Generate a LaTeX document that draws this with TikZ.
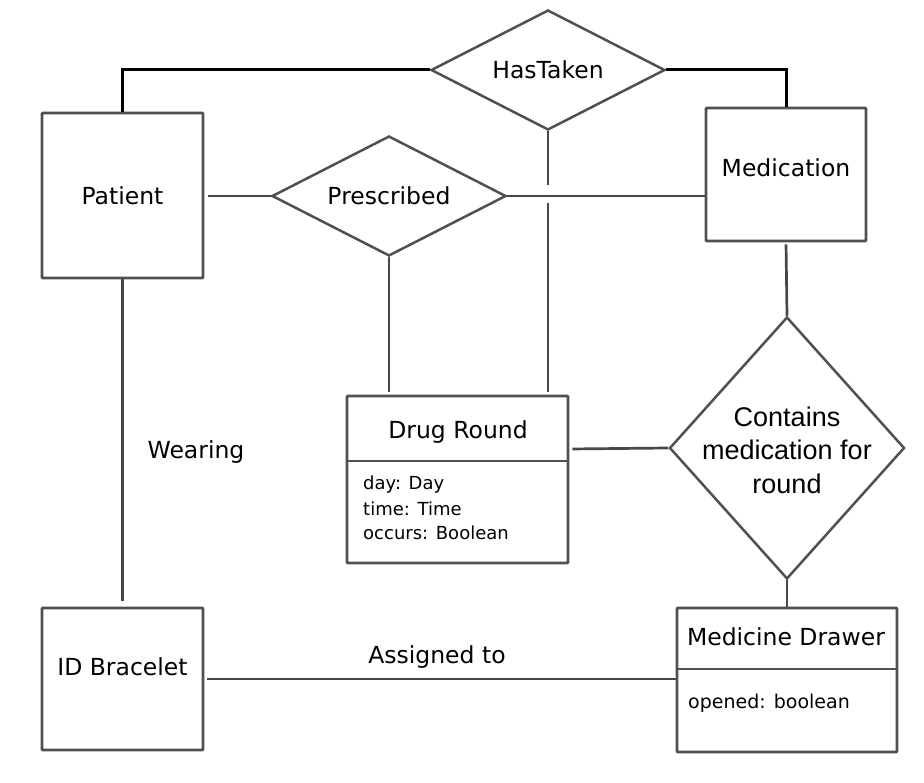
\documentclass[tikz,border=0pt]{standalone}
\usepackage{fontspec}
\setmainfont{DejaVu Sans}
\newfontfamily\relfont{Liberation Sans}
\usetikzlibrary{shapes.geometric}
\begin{document}
\begin{tikzpicture}[x=1pt,y=-1pt,
  entity/.style={draw=boxgrey,line width=2.9pt,rounded corners=1pt,fill=white,inner sep=0pt},
  relation/.style={draw=boxgrey,line width=2.5pt,shape=diamond,inner sep=0pt,fill=white},
  link/.style={draw=linegrey,line width=2.7pt},
  strong/.style={draw=black,line width=3pt},
  title/.style={font=\fontsize{23.5}{28}\selectfont,inner sep=0pt},
  attr/.style={font=\fontsize{18}{24}\selectfont,inner sep=0pt,anchor=west},
  reltext/.style={font=\relfont\fontsize{27}{33.5}\selectfont,align=center,inner sep=0pt}]
\definecolor{boxgrey}{HTML}{505050}
\definecolor{linegrey}{HTML}{484848}
\useasboundingbox[fill=white] (0,0) rectangle (924,783);

% entities
\node[entity,minimum width=161pt,minimum height=165pt] (patient) at (122.5,195.5) {};
\node[entity,minimum width=160pt,minimum height=133pt] (medication) at (786,174.5) {};
\node[entity,minimum width=161pt,minimum height=142pt] (bracelet) at (122.5,679) {};
\node[entity,minimum width=221pt,minimum height=167pt] (round) at (457.5,479.5) {};
\node[entity,minimum width=220pt,minimum height=144pt] (drawer) at (787,680) {};

% compartment dividers
\draw[draw=boxgrey,line width=2.9pt] (round.west |- 0,461) coordinate (rdl) -- (round.east |- 0,461) coordinate (rdr);
\draw[draw=boxgrey,line width=2.9pt] (drawer.west |- 0,669) coordinate (ddl) -- (drawer.east |- 0,669) coordinate (ddr);

% relationships
\node[relation,minimum width=234pt,minimum height=120pt] (hastaken) at (548,70) {};
\node[relation,minimum width=234pt,minimum height=120pt] (prescribed) at (389,196) {};
\node[relation,minimum width=235pt,minimum height=262pt] (contains) at (787,448) {};

% texts
\node[title] (tpatient) at (122.5,196) {Patient};
\node[title] (tmedication) at (786,168) {Medication};
\node[title] (tbracelet) at (122.5,667) {ID Bracelet};
\node[title] (tround) at (458,432) {Drug Round};
\node[title] (tdrawer) at (786,637) {Medicine Drawer};
\node[title] (thastaken) at (548,70) {HasTaken};
\node[title] (tprescribed) at (389,196) {Prescribed};
\node[reltext] (tcontains) at (787,450) {Contains\\medication for\\round};
\node[attr] (aday) at (363,485) {day: Day};
\node[attr] (atime) at (363,509) {time: Time};
\node[attr] (aoccurs) at (363,533) {occurs: Boolean};
\node[attr,font=\fontsize{19}{24}\selectfont] (aopened) at (688,703) {opened: boolean};
\node[title] (wearing) at (196,452) {Wearing};
\node[title] (assigned) at (437,657) {Assigned to};

% HasTaken connectors
\draw[strong] (patient.north) |- (hastaken.west);
\draw[strong] (hastaken.east) -| (medication.north);
\coordinate (gapT) at (548,185);
\coordinate (gapB) at (548,203);
\draw[link] (hastaken.south) -- (gapT);
\draw[link,shorten >=3pt] (gapB) -- (round.north -| gapB);

% Prescribed connectors
\draw[link,shorten <=4pt] (patient.east |- prescribed.west) -- (prescribed.west);
\draw[link] (prescribed.east) -- (medication.west |- prescribed.east);
\draw[link,shorten >=3pt] (prescribed.south) -- (round.north -| prescribed.south);

% Contains connectors
\draw[link,shorten <=2pt] (medication.south) -- (contains.north);
\draw[link,shorten <=3pt] (round.east |- 0,449) -- (contains.west);
\draw[link] (contains.south) -- (drawer.north);

% Wearing / Assigned to
\draw[link,shorten >=6pt] (patient.south) -- (bracelet.north);
\draw[link,shorten <=3pt] (bracelet.east |- 0,679) -- (drawer.west |- 0,679);
\end{tikzpicture}
\end{document}
